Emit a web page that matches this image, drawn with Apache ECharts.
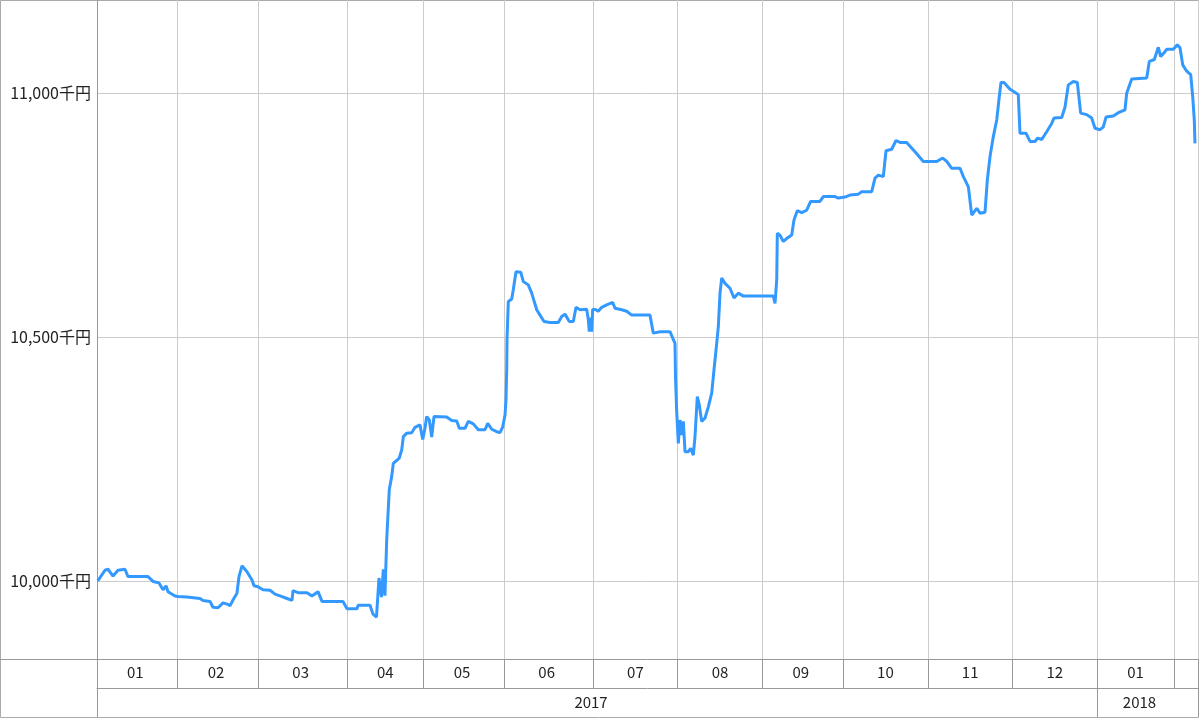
<!DOCTYPE html>
<html>
<head>
<meta charset="utf-8">
<script src="https://cdn.jsdelivr.net/npm/echarts@6/dist/echarts.min.js"></script>
<style>
html,body{margin:0;padding:0;background:#fff;}
#chart{width:1199px;height:719px;}
</style>
</head>
<body>
<div id="chart"></div>
<script>
// ---- data ----
const monthLabels = ['01','02','03','04','05','06','07','08','09','10','11','12','01','02'];
const monthDays   = [20,20,22,19,20,22,21,21,20,21,21,21,19,6];   // trading days per month
const yearLabels  = ['2017','2018'];
const yearMonthCount = [12, 2];
const yTickValues = [10000, 10500, 11000];
const yUnit = '千円';

// position of each point, in trading days from the start of Jan 2017
const dayPos = [
 0.2,1.98,2.73,3.97,5.21,6.94,7.69,12.65,13.89,15.37,16.37,17.11,17.61,19.34,20.08,22.32,25.54,26.28,28.02,28.76,
 30.0,31.24,32.48,32.98,33.72,34.71,35.21,35.95,37.19,38.43,38.93,39.92,41.16,42.9,44.14,45.87,47.11,48.35,48.6,49.84,
 52.07,53.31,54.8,55.79,61.0,61.99,64.47,64.72,67.69,68.44,69.3,69.92,70.54,71.0,71.4,71.83,72.47,73.07,73.47,74.96,
 75.56,75.96,76.8,78.03,78.85,80.09,80.76,81.33,81.75,82.4,82.99,83.56,86.71,87.95,89.19,89.84,91.25,92.07,93.31,94.55,
 96.21,96.88,97.87,99.11,99.93,100.6,101.17,101.41,101.59,101.66,101.99,102.83,103.22,103.89,105.06,105.7,106.94,107.79,109.03,109.85,
 110.84,112.32,114.38,115.23,116.04,117.11,118.11,118.77,119.76,121.42,121.82,122.07,122.42,122.66,122.91,123.73,124.3,125.14,126.38,127.87,
 128.44,130.1,131.34,132.58,137.12,137.94,139.6,142.08,142.75,143.32,143.44,143.74,144.14,144.56,144.98,145.38,145.8,146.62,147.21,147.86,
 148.28,148.85,149.34,149.94,150.76,151.58,152.42,152.99,153.66,154.06,154.48,154.9,155.72,156.96,157.95,159.02,160.26,167.7,168.12,168.54,
 168.69,169.35,170.17,171.01,172.25,172.82,173.64,174.73,175.97,176.96,179.27,180.09,182.99,183.81,185.47,186.71,188.77,189.61,192.09,192.91,
 193.73,194.97,195.64,197.05,198.12,199.11,200.77,202.83,204.89,208.21,209.7,210.69,211.93,214.0,214.82,216.06,216.9,218.14,218.95,220.19,
 220.76,221.43,222.25,223.09,223.73,224.15,224.9,226.39,227.38,228.44,228.86,230.35,231.34,232.58,233.25,234.24,235.48,236.72,237.29,239.2,
 240.02,240.84,242.08,243.07,243.91,245.4,246.64,247.46,248.7,249.52,250.19,252.0,253.24,254.9,255.32,256.56,260.28,260.93,262.17,263.16,
 263.75,264.82,265.24,266.88,267.87,268.54,269.21,270.2,271.19,271.69,272.08,272.25
];
// fund value (千円)
const navValues = [
 10000,10022,10024,10010,10022,10024,10009,10009,9999,9996,9982,9990,9978,9969,9968,9967,9964,9960,9958,9946,
 9945,9955,9952,9949,9961,9975,10009,10031,10019,10002,9990,9988,9982,9981,9973,9968,9964,9960,9980,9976,
 9976,9969,9978,9958,9958,9943,9943,9950,9950,9932,9926,10006,9967,10024,9970,10084,10187,10214,10241,10252,
 10269,10296,10303,10304,10315,10320,10290,10313,10337,10330,10295,10337,10336,10329,10328,10313,10313,10327,10322,10310,
 10310,10323,10311,10306,10304,10316,10340,10371,10433,10494,10573,10578,10597,10634,10633,10614,10607,10590,10556,10545,
 10532,10530,10530,10542,10547,10532,10532,10561,10556,10557,10536,10511,10540,10511,10557,10556,10553,10561,10566,10571,
 10559,10556,10553,10545,10545,10508,10511,10511,10498,10487,10419,10347,10282,10330,10299,10327,10265,10265,10272,10258,
 10296,10378,10361,10327,10334,10357,10385,10433,10487,10521,10590,10621,10610,10600,10580,10590,10584,10584,10569,10617,
 10713,10709,10696,10702,10709,10740,10759,10755,10760,10778,10778,10788,10788,10785,10787,10791,10793,10798,10798,10826,
 10832,10829,10882,10885,10903,10899,10899,10880,10860,10860,10867,10860,10846,10846,10829,10808,10750,10764,10754,10756,
 10822,10870,10911,10945,10993,11022,11022,11008,11003,10997,10918,10918,10901,10901,10908,10905,10921,10938,10949,10950,
 10971,11017,11024,11022,10959,10956,10949,10928,10925,10931,10951,10953,10960,10966,11000,11029,11031,11065,11069,11094,
 11075,11085,11090,11090,11099,11093,11058,11045,11038,10993,10945,10897
];

// ---- build the category slots (one per trading day) ----
const slots = [];
const monthStart = new Set();
const monthLabelAt = {};
let c = 0;
monthDays.forEach((d, m) => {
  monthStart.add(c);
  if (d >= 10) monthLabelAt[c + Math.floor((d - 1) / 2)] = monthLabels[m];
  for (let k = 0; k < d; k++) { slots.push('s' + c); c++; }
});
const totalDays = c;
const yearStart = new Set();
const yearLabelAt = {};
let mIdx = 0;
let dayIdx = 0;
yearMonthCount.forEach((n, y) => {
  const start = dayIdx;
  let len = 0;
  for (let k = 0; k < n; k++) { len += monthDays[mIdx + k]; }
  yearStart.add(start);
  yearLabelAt[start + Math.floor(len / 2) - 2] = yearLabels[y];
  mIdx += n; dayIdx += len;
});

const FONT = '"Noto Sans CJK JP", "Noto Sans", sans-serif';
const AX = '#999999';
const GRID = '#cccccc';

const chart = echarts.init(document.getElementById('chart'), null, {renderer: 'canvas'});
chart.setOption({
  animation: false,
  backgroundColor: '#ffffff',
  grid: {left: 97, top: 0, width: 1101, height: 659, containLabel: false, outerBoundsMode: 'none'},
  xAxis: [
    {
      type: 'category', data: slots, position: 'bottom', boundaryGap: true,
      axisLine: {show: true, lineStyle: {color: AX, width: 1}},
      axisTick: {show: true, interval: (i) => monthStart.has(i), length: 29, lineStyle: {color: AX, width: 1}},
      axisLabel: {show: true, interval: (i) => monthLabelAt[i] !== undefined,
        formatter: (v, i) => monthLabelAt[i] || '', margin: 6,
        fontFamily: FONT, fontSize: 15, color: '#222'},
      splitLine: {show: true, interval: (i) => monthStart.has(i), lineStyle: {color: GRID, width: 1}}
    },
    {
      type: 'category', data: slots, position: 'bottom', offset: 29, boundaryGap: true,
      axisLine: {show: true, lineStyle: {color: AX, width: 1}},
      axisTick: {show: true, interval: (i) => yearStart.has(i), length: 29, lineStyle: {color: AX, width: 1}},
      axisLabel: {show: true, interval: (i) => yearLabelAt[i] !== undefined,
        formatter: (v, i) => yearLabelAt[i] || '', margin: 7,
        fontFamily: FONT, fontSize: 15, color: '#222'},
      splitLine: {show: false}
    },
    {
      type: 'value', min: 0, max: totalDays, show: false,
      splitLine: {show: false}
    }
  ],
  yAxis: {
    type: 'value', min: 9840, max: 11191,
    axisLine: {show: true, lineStyle: {color: AX, width: 1}},
    axisTick: {show: false, customValues: yTickValues},
    axisLabel: {show: true, customValues: yTickValues, margin: 6,
      formatter: (v) => String(v).replace(/\B(?=(\d{3})+(?!\d))/g, ',') + yUnit,
      fontFamily: FONT, fontSize: 16, color: '#222'},
    splitLine: {show: true, lineStyle: {color: GRID, width: 1}}
  },
  graphic: [
    {type: 'rect', silent: true, shape: {x: 0.5, y: 0.5, width: 1198, height: 717},
     style: {fill: null, stroke: '#aaaaaa', lineWidth: 1}},
    {type: 'line', silent: true, shape: {x1: 0, y1: 659.5, x2: 97, y2: 659.5},
     style: {stroke: AX, lineWidth: 1}}
  ],
  series: [{
    type: 'line', xAxisIndex: 2, yAxisIndex: 0,
    data: dayPos.map((x, i) => [x, navValues[i]]),
    showSymbol: false, smooth: false,
    lineStyle: {color: '#3399ff', width: 3},
    itemStyle: {color: '#3399ff'}
  }]
});
</script>
</body>
</html>
